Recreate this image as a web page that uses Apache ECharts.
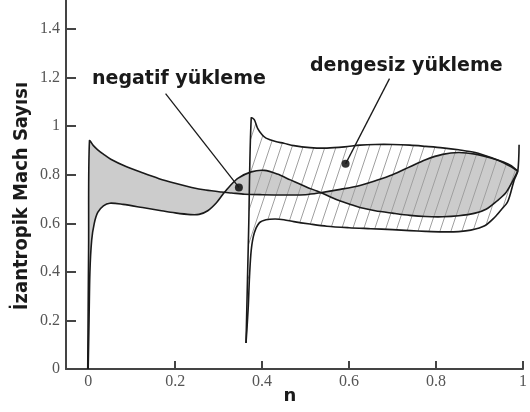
<!DOCTYPE html>
<html><head><meta charset="utf-8">
<script src="https://cdn.jsdelivr.net/npm/echarts@6/dist/echarts.min.js"></script>
<style>html,body{margin:0;padding:0;background:#fff}#c{width:530px;height:412px}</style>
</head><body><div id="c"></div><script>
const xTicks=[0,0.2,0.4,0.6,0.8,1];
const yTicks=[0,0.2,0.4,0.6,0.8,1,1.2,1.4];
const xName='n';
const yName='İzantropik Mach Sayısı';
const negLabel='negatif yükleme';
const denLabel='dengesiz yükleme';
// negatif yükleme: two surface curves (gray loop)
const negUpper=[[-0.001,0],[0.001,0.5],[0.003,0.94],[0.012,0.92],[0.022,0.903],[0.035,0.885],[0.052,0.864],[0.087,0.834],[0.125,0.808],[0.163,0.784],[0.2,0.765],[0.238,0.748],[0.27,0.737],[0.306,0.729],[0.33,0.725],[0.36,0.72],[0.4,0.718],[0.45,0.717],[0.5,0.718],[0.534,0.726],[0.58,0.74],[0.625,0.756],[0.66,0.775],[0.7,0.8],[0.74,0.833],[0.776,0.862],[0.815,0.884],[0.852,0.892],[0.89,0.885],[0.928,0.868],[0.955,0.853],[0.973,0.838],[0.988,0.815]];
const negLower=[[0,0],[0.002,0.2],[0.004,0.4],[0.008,0.53],[0.014,0.6],[0.022,0.645],[0.035,0.672],[0.05,0.683],[0.08,0.678],[0.125,0.665],[0.165,0.653],[0.2,0.643],[0.235,0.636],[0.255,0.637],[0.275,0.652],[0.295,0.685],[0.31,0.72],[0.325,0.752],[0.345,0.786],[0.375,0.812],[0.405,0.818],[0.435,0.803],[0.465,0.779],[0.503,0.749],[0.526,0.733],[0.55,0.715],[0.572,0.697],[0.6,0.68],[0.625,0.665],[0.66,0.652],[0.7,0.642],[0.74,0.633],[0.776,0.628],[0.815,0.627],[0.852,0.631],[0.89,0.642],[0.915,0.658],[0.94,0.692],[0.96,0.725],[0.975,0.77],[0.988,0.815]];
// dengesiz yükleme: two surface curves (hatched loop)
const denUpper=[[0.363,0.107],[0.369,0.57],[0.375,1.034],[0.382,1.027],[0.39,0.99],[0.4,0.965],[0.409,0.951],[0.431,0.937],[0.45,0.93],[0.473,0.92],[0.51,0.912],[0.549,0.91],[0.59,0.915],[0.625,0.922],[0.66,0.925],[0.7,0.925],[0.74,0.922],[0.776,0.917],[0.815,0.911],[0.852,0.903],[0.89,0.892],[0.928,0.87],[0.955,0.85],[0.973,0.833],[0.988,0.815]];
const denLower=[[0.363,0.107],[0.368,0.25],[0.371,0.38],[0.375,0.49],[0.382,0.56],[0.394,0.603],[0.409,0.615],[0.43,0.618],[0.45,0.615],[0.473,0.607],[0.51,0.597],[0.549,0.588],[0.6,0.582],[0.65,0.578],[0.7,0.574],[0.74,0.57],[0.776,0.567],[0.815,0.565],[0.852,0.566],[0.88,0.572],[0.912,0.59],[0.935,0.625],[0.95,0.656],[0.965,0.69],[0.98,0.78],[0.988,0.815],[0.991,0.924]];
const markerDots=[[0.3466,0.748],[0.592,0.845]];
const negLeader=[[0.178,1.134],[0.3466,0.748]];
const denLeader=[[0.693,1.196],[0.592,0.845]];

// hatch pattern
const hc=document.createElement('canvas');hc.width=11;hc.height=33;
const hx=hc.getContext('2d');hx.strokeStyle='#a0a0a0';hx.lineWidth=1;
[[-11,0],[0,0],[11,0]].forEach(o=>{hx.beginPath();hx.moveTo(o[0],33);hx.lineTo(o[0]+11,0);hx.stroke();});
const hatch={image:hc,repeat:'repeat'};

const S=0.3, LINE='#1a1a1a', LW=1.6;
const chart=echarts.init(document.getElementById('c'),null,{renderer:'canvas'});
const axisCommon={
  axisLine:{show:true,onZero:false,lineStyle:{color:'#444',width:2}},
  axisTick:{show:true,inside:true,lineStyle:{color:'#444',width:2}},
  axisLabel:{color:'#555',fontFamily:'"Liberation Serif", serif',fontSize:16},
  splitLine:{show:false}
};
chart.setOption({
  animation:false,
  grid:{left:66,right:1.5,top:0,bottom:43},
  xAxis:Object.assign({},axisCommon,{type:'value',min:-0.051,max:1,
    axisTick:Object.assign({},axisCommon.axisTick,{length:8,customValues:xTicks}),
    axisLabel:Object.assign({},axisCommon.axisLabel,{margin:5,customValues:xTicks})}),
  yAxis:Object.assign({},axisCommon,{type:'value',min:0,max:1.52,
    axisTick:Object.assign({},axisCommon.axisTick,{length:10,customValues:yTicks}),
    axisLabel:Object.assign({},axisCommon.axisLabel,{margin:6,customValues:yTicks})}),
  series:[
    {type:'custom',coordinateSystem:'cartesian2d',data:[[0.5,0.5]],silent:true,clip:true,
     renderItem:function(params,api){
       const c=a=>a.map(p=>api.coord(p));
       const nU=c(negUpper),nL=c(negLower),dU=c(denUpper),dL=c(denLower);
       const negPoly=nU.concat(nL.slice().reverse());
       const denPoly=dU.concat(dL.slice().reverse());
       return {type:'group',children:[
         {type:'polygon',shape:{points:negPoly,smooth:S},style:{fill:'#cccccc',stroke:null}},
         {type:'polygon',shape:{points:denPoly,smooth:S},style:{fill:hatch,stroke:null}},
         {type:'polyline',shape:{points:nU,smooth:S},style:{fill:null,stroke:LINE,lineWidth:LW}},
         {type:'polyline',shape:{points:nL,smooth:S},style:{fill:null,stroke:LINE,lineWidth:LW}},
         {type:'polyline',shape:{points:dU,smooth:S},style:{fill:null,stroke:LINE,lineWidth:LW}},
         {type:'polyline',shape:{points:dL,smooth:S},style:{fill:null,stroke:LINE,lineWidth:LW}}
       ]};
     }},
    {type:'line',data:negLeader,symbol:'none',lineStyle:{color:LINE,width:1.3},silent:true},
    {type:'line',data:denLeader,symbol:'none',lineStyle:{color:LINE,width:1.3},silent:true},
    {type:'scatter',data:markerDots,symbol:'circle',symbolSize:8,itemStyle:{color:'#000'},silent:true}
  ],
  graphic:[
    {type:'text',x:92,y:79,style:{text:negLabel,font:'bold 19px "DejaVu Sans"',fill:'#1a1a1a',textVerticalAlign:'middle'}},
    {type:'text',x:310,y:66,style:{text:denLabel,font:'bold 19px "DejaVu Sans"',fill:'#1a1a1a',textVerticalAlign:'middle'}},
    {type:'text',x:290,y:396,style:{text:xName,font:'bold 18px "DejaVu Sans"',fill:'#1a1a1a',textAlign:'center',textVerticalAlign:'middle'}},
    {type:'text',x:22,y:196,rotation:Math.PI/2,style:{text:yName,font:'bold 20px "DejaVu Sans Condensed", "DejaVu Sans"',fill:'#1a1a1a',textAlign:'center',textVerticalAlign:'middle'}}
  ]
});
</script></body></html>
